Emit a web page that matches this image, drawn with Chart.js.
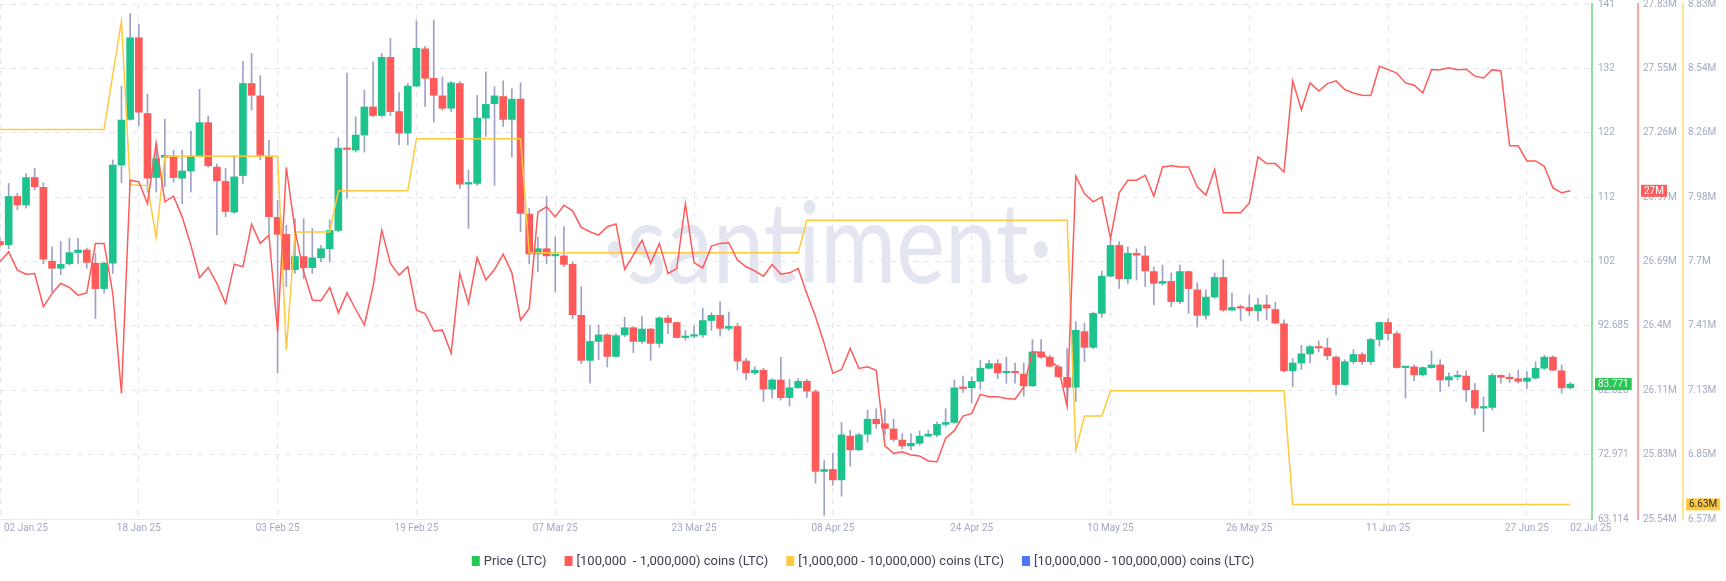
<!DOCTYPE html>
<html>
<head>
<meta charset="utf-8">
<title>LTC price and holder balances</title>
<script src="https://cdn.jsdelivr.net/npm/chart.js@4.4.1/dist/chart.umd.min.js"></script>
<style>
  html, body { margin: 0; padding: 0; background: #fff; }
  #wrap { width: 1726px; height: 581px; }
</style>
</head>
<body>
<div id="wrap"><canvas id="chart" width="1726" height="581"></canvas></div>
<script>
// ══════════════════════════════════════════
// Data (one point per day, index 0 = 02 Jan 25)
// ══════════════════════════════════════════

var xTickDays = [0, 16, 32, 48, 64, 80, 96, 112, 128, 144, 160, 176, 181];
var xTickLabels = ['02 Jan 25', '18 Jan 25', '03 Feb 25', '19 Feb 25', '07 Mar 25', '23 Mar 25',
  '08 Apr 25', '24 Apr 25', '10 May 25', '26 May 25', '11 Jun 25', '27 Jun 25', '02 Jul 25'];

var priceTicks = [63.114, 72.971, 82.828, 92.685, 102.542, 112.399, 122.256, 132.113, 141.97];
var priceTickLabels = ['63.114', '72.971', '82.828', '92.685', '102', '112', '122', '132', '141'];
var redTicks = [25.54, 25.826, 26.113, 26.399, 26.685, 26.972, 27.258, 27.544, 27.831];
var redTickLabels = ['25.54M', '25.83M', '26.11M', '26.4M', '26.69M', '26.97M', '27.26M', '27.55M', '27.83M'];
var yellowTicks = [6.57, 6.8525, 7.135, 7.4175, 7.70, 7.9825, 8.265, 8.5475, 8.83];
var yellowTickLabels = ['6.57M', '6.85M', '7.13M', '7.41M', '7.7M', '7.98M', '8.26M', '8.54M', '8.83M'];

var open = [
  105.6, 105.1, 112.5, 111.2, 115.4, 113.9, 102.6, 101.5, 102.2, 103.9,
  104.3, 102.3, 98.4, 102.3, 117.3, 124.3, 136.8, 125.2, 115.4, 118.5,
  118.7, 115.3, 116.4, 118.7, 123.8, 117.0, 114.8, 110.1, 115.7, 129.8,
  127.9, 118.7, 109.3, 106.7, 101.3, 103.3, 101.6, 103.1, 104.5, 107.3,
  119.9, 119.6, 121.9, 126.2, 124.9, 133.8, 125.5, 122.2, 129.4, 135.1,
  130.6, 127.9, 126.0, 129.8, 114.4, 114.5, 124.5, 126.7, 127.8, 124.3,
  127.4, 109.8, 103.7, 104.5, 103.4, 103.4, 102.1, 94.3, 87.4, 90.3,
  91.3, 88.0, 91.3, 92.4, 90.3, 92.2, 90.0, 93.9, 93.2, 90.9,
  91.1, 91.3, 93.5, 94.3, 92.3, 92.6, 87.3, 85.5, 85.9, 83.0,
  84.4, 81.7, 83.2, 84.2, 82.6, 70.4, 70.7, 69.1, 75.8, 73.7,
  76.1, 78.4, 77.7, 76.9, 75.2, 74.3, 74.7, 75.8, 76.0, 77.6,
  77.9, 83.2, 83.2, 84.2, 86.2, 86.9, 85.5, 85.7, 85.3, 83.5,
  88.7, 87.9, 86.4, 84.8, 83.3, 91.8, 89.4, 94.6, 100.3, 105.0,
  99.9, 103.8, 103.4, 101.0, 99.2, 99.5, 96.4, 101.0, 98.2, 94.3,
  97.1, 100.1, 95.1, 95.5, 95.5, 95.0, 95.9, 95.2, 93.0, 85.8,
  87.0, 88.4, 89.5, 89.3, 87.9, 83.7, 87.2, 88.3, 87.2, 90.6,
  93.2, 91.5, 86.3, 86.4, 85.2, 86.3, 86.7, 84.4, 84.9, 85.0,
  82.8, 80.1, 80.2, 85.1, 84.8, 84.6, 84.2, 84.7, 86.2, 87.9,
  85.8, 83.2
];
var high = [
  106.0, 114.5, 113.0, 116.0, 116.8, 114.6, 104.8, 105.6, 106.1, 106.1,
  104.6, 103.8, 102.5, 118.1, 129.4, 140.5, 138.9, 128.2, 120.6, 124.3,
  119.6, 119.6, 122.5, 128.9, 124.8, 117.5, 116.8, 118.8, 133.2, 134.4,
  131.0, 121.1, 111.9, 108.1, 109.1, 109.1, 107.6, 105.0, 108.9, 121.5,
  131.4, 124.7, 128.8, 133.1, 134.4, 136.7, 128.4, 129.8, 139.4, 135.5,
  139.5, 130.8, 130.1, 130.1, 116.5, 128.0, 131.6, 129.3, 130.2, 129.0,
  129.9, 110.7, 106.3, 112.5, 106.3, 107.9, 102.5, 98.7, 92.8, 92.8,
  91.5, 91.5, 94.0, 92.6, 94.1, 92.3, 94.1, 94.3, 93.3, 92.0,
  92.7, 95.4, 94.7, 96.4, 94.8, 93.1, 87.7, 86.4, 86.2, 84.6,
  87.9, 84.5, 84.6, 84.5, 82.9, 72.1, 73.2, 77.9, 76.7, 76.2,
  79.8, 80.0, 80.0, 78.4, 76.2, 76.2, 76.6, 76.7, 78.0, 80.0,
  84.4, 85.0, 84.9, 87.4, 87.4, 87.5, 87.9, 87.0, 87.0, 90.6,
  90.6, 88.2, 86.7, 89.2, 93.3, 93.1, 94.8, 101.1, 105.9, 105.6,
  104.8, 104.5, 104.9, 101.7, 102.0, 100.8, 102.0, 101.1, 99.3, 98.2,
  100.8, 102.8, 97.7, 95.9, 97.4, 96.9, 97.4, 96.3, 93.6, 87.7,
  89.7, 89.7, 90.4, 90.8, 88.1, 87.5, 89.1, 88.6, 90.8, 93.3,
  93.8, 91.8, 86.5, 86.7, 86.4, 88.8, 87.5, 85.5, 85.8, 85.8,
  83.9, 81.8, 85.4, 85.2, 85.4, 85.9, 85.7, 87.2, 88.2, 88.1,
  86.7, 84.0
];
var low = [
  104.8, 104.5, 110.5, 110.7, 113.5, 102.2, 97.9, 100.5, 102.0, 102.2,
  101.5, 93.8, 97.7, 100.7, 114.6, 124.2, 123.3, 113.2, 113.2, 114.0,
  114.7, 111.4, 113.2, 118.6, 117.0, 106.6, 109.4, 109.9, 114.5, 125.7,
  118.1, 106.8, 85.5, 98.7, 100.7, 99.9, 100.7, 102.5, 102.5, 107.1,
  112.2, 119.3, 119.3, 124.7, 124.7, 124.9, 120.4, 120.4, 129.3, 126.3,
  123.9, 125.7, 125.5, 113.7, 107.6, 114.2, 121.7, 114.2, 123.2, 118.5,
  107.1, 102.2, 101.0, 102.2, 97.9, 101.7, 93.8, 86.9, 83.9, 87.5,
  86.4, 87.9, 91.0, 88.6, 90.0, 87.4, 89.4, 91.5, 90.8, 90.5,
  90.9, 90.9, 92.0, 91.1, 92.0, 85.9, 84.5, 85.2, 81.1, 81.6,
  81.3, 80.4, 83.1, 81.7, 68.6, 63.7, 68.3, 66.6, 71.2, 73.6,
  74.9, 77.0, 76.0, 75.0, 73.9, 73.7, 74.4, 75.7, 75.7, 77.3,
  77.8, 82.5, 80.9, 83.0, 86.1, 84.6, 83.9, 83.9, 81.9, 83.4,
  87.7, 86.4, 84.8, 80.6, 81.1, 87.2, 89.2, 94.0, 100.2, 98.4,
  99.2, 99.7, 98.7, 95.9, 98.9, 95.6, 96.1, 94.6, 92.5, 93.7,
  96.9, 94.9, 95.0, 93.5, 94.3, 93.5, 93.6, 93.0, 85.6, 83.4,
  86.0, 87.0, 88.7, 87.5, 82.1, 83.6, 86.9, 86.8, 86.8, 89.6,
  90.5, 86.2, 81.6, 84.3, 85.0, 86.2, 82.6, 83.4, 84.4, 81.1,
  79.1, 76.5, 79.8, 83.9, 84.0, 83.9, 83.1, 84.5, 86.0, 85.8,
  82.4, 83.0
];
var close = [
  105.1, 112.5, 111.2, 115.4, 114.0, 102.9, 101.5, 102.1, 103.9, 104.3,
  102.4, 98.4, 102.3, 117.3, 124.2, 136.8, 125.4, 115.3, 118.3, 118.8,
  115.4, 116.4, 118.7, 123.8, 117.2, 114.9, 110.2, 115.5, 129.8, 128.0,
  118.8, 109.4, 106.7, 101.3, 103.3, 101.6, 103.1, 104.5, 107.3, 119.9,
  119.7, 121.9, 126.2, 124.9, 133.8, 125.5, 122.2, 129.4, 135.2, 130.6,
  128.0, 126.0, 129.9, 114.4, 114.6, 124.5, 126.6, 127.9, 124.3, 127.4,
  109.9, 103.7, 104.5, 103.4, 103.5, 102.1, 94.4, 87.4, 90.3, 91.3,
  88.0, 91.2, 92.4, 90.3, 92.2, 90.0, 93.9, 93.2, 90.9, 91.0,
  91.2, 93.5, 94.3, 92.3, 92.6, 87.3, 85.5, 85.9, 83.0, 84.4,
  81.7, 83.2, 84.2, 82.7, 70.4, 70.7, 69.1, 76.0, 73.7, 76.0,
  78.4, 77.7, 77.0, 75.3, 74.3, 74.7, 75.8, 76.1, 77.6, 77.9,
  83.2, 83.1, 84.2, 86.2, 86.9, 85.5, 85.7, 85.5, 83.5, 88.7,
  87.9, 86.5, 84.9, 83.3, 92.0, 89.4, 94.6, 100.3, 105.0, 99.9,
  103.8, 103.5, 101.1, 99.2, 99.5, 96.4, 101.0, 98.4, 94.3, 97.1,
  100.1, 95.1, 95.5, 95.4, 95.0, 95.9, 95.4, 93.1, 85.8, 87.0,
  88.4, 89.5, 89.3, 88.1, 83.7, 87.2, 88.3, 87.2, 90.6, 93.2,
  91.5, 86.3, 86.4, 85.2, 86.3, 86.7, 84.4, 84.9, 85.0, 82.9,
  80.1, 80.2, 85.1, 84.8, 84.6, 84.2, 84.7, 86.2, 87.9, 85.9,
  83.2, 83.771
];

// [100,000 - 1,000,000) coins, millions of LTC
var holders100k = [
  26.684, 26.729, 26.647, 26.629, 26.632, 26.484, 26.543, 26.588, 26.570, 26.536,
  26.546, 26.766, 26.766, 26.543, 26.099, 27.047, 27.040, 26.943, 27.213, 26.951,
  26.976, 26.884, 26.758, 26.614, 26.659, 26.588, 26.499, 26.674, 26.662, 26.852,
  26.766, 26.803, 26.373, 27.104, 26.825, 26.640, 26.514, 26.511, 26.570, 26.457,
  26.546, 26.472, 26.403, 26.573, 26.825, 26.677, 26.625, 26.662, 26.469, 26.454,
  26.376, 26.380, 26.277, 26.632, 26.499, 26.703, 26.603, 26.650, 26.718, 26.635,
  26.425, 26.477, 26.905, 26.929, 26.884, 26.936, 26.911, 26.837, 26.818, 26.803,
  26.840, 26.852, 26.650, 26.714, 26.780, 26.677, 26.766, 26.632, 26.654, 26.943,
  26.680, 26.657, 26.754, 26.766, 26.769, 26.692, 26.662, 26.644, 26.620, 26.672,
  26.629, 26.635, 26.654, 26.543, 26.440, 26.321, 26.188, 26.205, 26.299, 26.210,
  26.217, 26.202, 25.865, 25.832, 25.839, 25.825, 25.820, 25.798, 25.795, 25.899,
  25.933, 25.998, 26.010, 26.094, 26.084, 26.084, 26.076, 26.073, 26.128, 26.284,
  26.280, 26.247, 26.214, 26.042, 27.065, 26.988, 26.951, 26.973, 26.788, 26.991,
  27.047, 27.047, 27.069, 26.976, 27.106, 27.111, 27.106, 27.106, 27.018, 26.981,
  27.095, 26.902, 26.902, 26.902, 26.946, 27.151, 27.121, 27.121, 27.084, 27.489,
  27.361, 27.480, 27.444, 27.477, 27.489, 27.450, 27.435, 27.425, 27.424, 27.554,
  27.539, 27.524, 27.480, 27.470, 27.435, 27.539, 27.539, 27.547, 27.539, 27.541,
  27.510, 27.502, 27.539, 27.533, 27.200, 27.200, 27.133, 27.133, 27.109, 27.013,
  26.991, 27.000
];

// [1,000,000 - 10,000,000) coins, millions of LTC
var holders1m = [
  8.279, 8.279, 8.279, 8.279, 8.279, 8.279, 8.279, 8.279, 8.279, 8.279,
  8.279, 8.279, 8.279, 8.520, 8.755, 8.037, 8.035, 8.034, 7.805, 8.162,
  8.162, 8.162, 8.162, 8.162, 8.162, 8.162, 8.162, 8.162, 8.162, 8.162,
  8.162, 8.162, 8.162, 7.311, 7.830, 7.830, 7.830, 7.830, 7.830, 8.010,
  8.010, 8.010, 8.010, 8.010, 8.010, 8.010, 8.010, 8.010, 8.239, 8.239,
  8.239, 8.239, 8.239, 8.239, 8.239, 8.239, 8.239, 8.239, 8.239, 8.239,
  8.239, 7.738, 7.738, 7.738, 7.738, 7.738, 7.738, 7.738, 7.738, 7.738,
  7.738, 7.738, 7.738, 7.738, 7.738, 7.738, 7.738, 7.738, 7.738, 7.738,
  7.738, 7.738, 7.738, 7.738, 7.738, 7.738, 7.738, 7.738, 7.738, 7.738,
  7.738, 7.738, 7.738, 7.881, 7.881, 7.881, 7.881, 7.881, 7.881, 7.881,
  7.881, 7.881, 7.881, 7.881, 7.881, 7.881, 7.881, 7.881, 7.881, 7.881,
  7.881, 7.881, 7.881, 7.881, 7.881, 7.881, 7.881, 7.881, 7.881, 7.881,
  7.881, 7.881, 7.881, 7.881, 6.873, 7.022, 7.022, 7.022, 7.133, 7.133,
  7.133, 7.133, 7.133, 7.133, 7.133, 7.133, 7.133, 7.133, 7.133, 7.133,
  7.133, 7.133, 7.133, 7.133, 7.133, 7.133, 7.133, 7.133, 7.133, 6.634,
  6.634, 6.634, 6.634, 6.634, 6.634, 6.634, 6.634, 6.634, 6.634, 6.634,
  6.634, 6.634, 6.634, 6.634, 6.634, 6.634, 6.634, 6.634, 6.634, 6.634,
  6.634, 6.634, 6.634, 6.634, 6.634, 6.634, 6.634, 6.634, 6.634, 6.634,
  6.634, 6.634
];

// [10,000,000 - 100,000,000) coins: no points shown in the picture
var holders10m = [];

// ══════════════════════════════════════════
// Colors
// ══════════════════════════════════════════
var colors = {
  up: '#1cc38c', down: '#ff5a5a', wick: '#9da2c6',
  red: '#ff5b5b', yellow: '#ffc93f', blue: '#5275ff', priceTag: '#26c953',
  grid: '#e3e6ef', tick: '#a3aac2', text: '#3d4050', mark: '#e3e6f1',
};

function pointsFrom(values) {
  return values.map(function (v, i) { return { x: i, y: v }; });
}

var bodies = close.map(function (c, i) { return { x: i, y: [open[i], c] }; });
var wicks = close.map(function (c, i) { return { x: i, y: [low[i], high[i]] }; });
var bodyColors = close.map(function (c, i) { return c >= open[i] ? colors.up : colors.down; });

function fixedTicks(values) {
  return function (scale) {
    scale.ticks = values.map(function (v) { return { value: v }; });
  };
}
function axisFit(width) {
  return function (scale) {
    scale.width = width;
    scale.paddingTop = 4;
    scale.paddingBottom = 0;
  };
}
function tickFont() { return { family: 'Roboto', size: 10 }; }

// ══════════════════════════════════════════
// Overlay: watermark, x labels, last value tags, legend
// ══════════════════════════════════════════
function valueTag(ctx, scale, value, text, bg, fg) {
  var y = scale.getPixelForValue(value);
  ctx.font = '10px Roboto';
  var w = ctx.measureText(text).width + 6;
  ctx.fillStyle = bg;
  ctx.fillRect(scale.left + 3, y - 6, w, 12);
  ctx.fillStyle = fg;
  ctx.textAlign = 'left';
  ctx.textBaseline = 'middle';
  ctx.fillText(text, scale.left + 6, y + 0.5);
}

var overlay = {
  id: 'overlay',
  beforeDatasetsDraw: function (chart) {
    var ctx = chart.ctx, a = chart.chartArea;
    var text = '\u00b7santiment\u00b7';
    ctx.save();
    ctx.font = '112px Lato';
    var w = ctx.measureText(text).width;
    ctx.translate(a.left + a.width * 0.52, a.top + a.height * 0.542);
    ctx.scale(450 / w, 1);
    ctx.fillStyle = colors.mark;
    ctx.textAlign = 'center';
    ctx.textBaseline = 'alphabetic';
    ctx.fillText(text, 0, 0);
    ctx.restore();
  },
  afterDraw: function (chart) {
    var ctx = chart.ctx, a = chart.chartArea, xs = chart.scales.x;
    ctx.save();

    ctx.font = '10px Roboto';
    ctx.fillStyle = colors.tick;
    ctx.textBaseline = 'middle';
    xTickDays.forEach(function (d, i) {
      var px = xs.getPixelForValue(d);
      ctx.textAlign = 'center';
      if (i === 0) { ctx.textAlign = 'left'; px += 4; }
      if (i === xTickDays.length - 1) ctx.textAlign = 'left';
      ctx.fillText(xTickLabels[i], px, a.bottom + 9);
    });

    var last = close.length - 1;
    valueTag(ctx, chart.scales.yPrice, close[last], close[last].toFixed(3), colors.priceTag, '#fff');
    valueTag(ctx, chart.scales.yRed, holders100k[last], +holders100k[last].toFixed(2) + 'M', colors.red, '#fff');
    valueTag(ctx, chart.scales.yYellow, holders1m[last], +holders1m[last].toFixed(2) + 'M', colors.yellow, '#2b2b2b');

    // legend, in dataset order
    var items = chart.data.datasets.filter(function (ds) { return ds.legendColor; });
    ctx.font = '13px Roboto';
    var box = 8, gap = 4, space = 18, total = 0;
    items.forEach(function (ds, i) {
      total += box + gap + ctx.measureText(ds.label).width + (i ? space : 0);
    });
    var x = (chart.width - total) / 2, y = 561;
    ctx.textAlign = 'left';
    items.forEach(function (ds) {
      ctx.fillStyle = ds.legendColor;
      ctx.fillRect(x, y - 5, box, 10);
      ctx.fillStyle = colors.text;
      ctx.fillText(ds.label, x + box + gap, y + 0.5);
      x += box + gap + ctx.measureText(ds.label).width + space;
    });
    ctx.restore();
  },
};

// ══════════════════════════════════════════
// Chart
// ══════════════════════════════════════════
Chart.defaults.font.family = 'Roboto, "Noto Sans", sans-serif';

new Chart(document.getElementById('chart'), {
  type: 'bar',
  data: {
    datasets: [
      {
        label: 'Price (LTC)', data: bodies, yAxisID: 'yPrice',
        backgroundColor: bodyColors, borderWidth: 0, barThickness: 7, minBarLength: 1.5,
        grouped: false, legendColor: colors.priceTag, order: 1,
      },
      {
        label: 'Price range', data: wicks, yAxisID: 'yPrice',
        backgroundColor: colors.wick, borderWidth: 0, barThickness: 1,
        grouped: false, order: 2,
      },
      {
        type: 'line', label: '[100,000  - 1,000,000) coins (LTC)', data: pointsFrom(holders100k),
        yAxisID: 'yRed', borderColor: colors.red, borderWidth: 1.5, pointRadius: 0, tension: 0,
        legendColor: colors.red, order: 0,
      },
      {
        type: 'line', label: '[1,000,000 - 10,000,000) coins (LTC)', data: pointsFrom(holders1m),
        yAxisID: 'yYellow', borderColor: colors.yellow, borderWidth: 1.5, pointRadius: 0, tension: 0,
        legendColor: colors.yellow, order: 0,
      },
      {
        type: 'line', label: '[10,000,000 - 100,000,000) coins (LTC)', data: pointsFrom(holders10m),
        yAxisID: 'yYellow', borderColor: colors.blue, borderWidth: 1.5, pointRadius: 0,
        legendColor: colors.blue, order: 0,
      },
    ],
  },
  options: {
    responsive: false, animation: false,
    layout: { padding: { left: 0, right: 0, top: 0, bottom: 42 } },
    plugins: { legend: { display: false }, tooltip: { enabled: false } },
    scales: {
      x: {
        type: 'linear', min: 0, max: 183.5, offset: false,
        afterBuildTicks: fixedTicks(xTickDays),
        afterFit: function (s) { s.height = 20; s.paddingLeft = 0; s.paddingRight = 0; },
        grid: {
          offset: false, drawTicks: false,
          color: function (c) { return c.tick && c.tick.value === 181 ? 'rgba(0,0,0,0)' : colors.grid; },
        },
        border: { display: true, color: '#e9ebf2', dash: [5, 6] },
        ticks: { display: false },
      },
      yPrice: {
        position: 'right', min: priceTicks[0], max: priceTicks[priceTicks.length - 1],
        afterBuildTicks: fixedTicks(priceTicks), afterFit: axisFit(46),
        grid: { color: colors.grid, drawTicks: false },
        border: { display: true, color: '#8fdfa2', width: 2, dash: [5, 6] },
        ticks: { color: colors.tick, font: tickFont(), padding: 6,
          callback: function (v, i) { return priceTickLabels[i]; } },
      },
      yRed: {
        position: 'right', min: redTicks[0], max: redTicks[redTicks.length - 1],
        afterBuildTicks: fixedTicks(redTicks), afterFit: axisFit(45),
        grid: { drawOnChartArea: false, drawTicks: false },
        border: { display: true, color: '#ffa4a4', width: 2 },
        ticks: { color: colors.tick, font: tickFont(), padding: 5,
          callback: function (v, i) { return redTickLabels[i]; } },
      },
      yYellow: {
        position: 'right', min: yellowTicks[0], max: yellowTicks[yellowTicks.length - 1],
        afterBuildTicks: fixedTicks(yellowTicks), afterFit: axisFit(43),
        grid: { drawOnChartArea: false, drawTicks: false },
        border: { display: true, color: '#ffe096', width: 2 },
        ticks: { color: colors.tick, font: tickFont(), padding: 5,
          callback: function (v, i) { return yellowTickLabels[i]; } },
      },
    },
  },
  plugins: [overlay],
});
</script>
</body>
</html>
